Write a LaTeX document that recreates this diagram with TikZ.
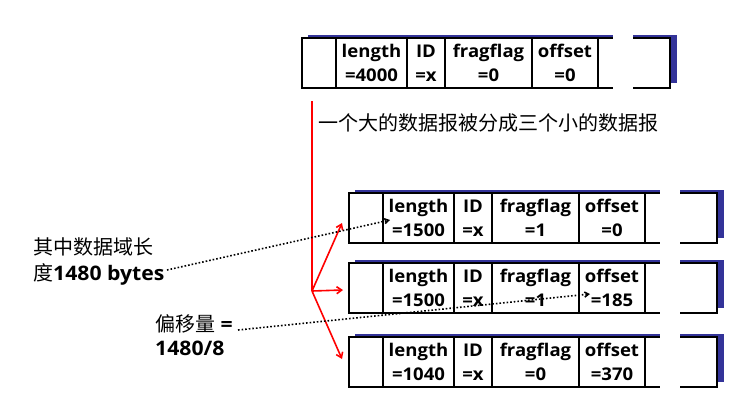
\documentclass[tikz,border=0pt]{standalone}
\usepackage{fontspec}
\setmainfont{Open Sans}[FakeStretch=1.06]
\newfontfamily\cjk{Noto Sans CJK SC}
\usetikzlibrary{arrows.meta,calc}
\definecolor{shadowblue}{RGB}{51,51,153}
\tikzset{
  pktbox/.style={draw=black, fill=white, line width=2.6pt, minimum width=368pt, minimum height=50pt, inner sep=0pt, outer sep=0pt},
  divider/.style={line width=2pt},
  cell/.style={align=center, inner sep=0pt, font=\bfseries\fontsize{17.5}{24}\selectfont},
  redline/.style={draw=red, line width=1.6pt},
  redarrow/.style={redline, -{Straight Barb[length=5pt,width=7pt]}},
  dotline/.style={line width=1.6pt, dotted, -{Straight Barb[length=4pt,width=5pt]}},
  lab/.style={align=left, anchor=west, inner sep=0pt, font=\bfseries\fontsize{20}{26}\selectfont},
}
\newcommand\pkt[6]{%
  \begin{scope}[shift={(#2,#3)}]
    \fill[shadowblue] (6,-3) rectangle (375,45);
    \node[pktbox] (#1) at (184,25) {};
    \foreach \d in {34,105,143,230,296} \draw[divider] (\d,0) -- (\d,50);
    \fill[white] (311,-5) rectangle (331,52);
    \node[cell] (#1-len) at (69.5,25) {length\\=#4};
    \node[cell] (#1-id) at (124,25) {ID\\=x};
    \node[cell] (#1-flag) at (186.5,25) {fragflag\\=#5};
    \node[cell] (#1-off) at (263,25) {offset\\=#6};
  \end{scope}}
\begin{document}
\begin{tikzpicture}[x=1pt,y=-1pt]
\useasboundingbox (0,0) rectangle (756,408);
\pkt{p0}{302}{38}{4000}{0}{0}
\pkt{f1}{349}{193}{1500}{1}{0}
\pkt{f2}{349}{263}{1500}{1}{185}
\pkt{f3}{349}{337}{1040}{0}{370}
% title
\node[inner sep=0pt, anchor=west, font=\cjk\fontsize{20}{24}\selectfont] (title) at (318,123) {一个大的数据报被分成三个小的数据报};
% red split arrows
\coordinate (rtop) at (312,101);
\coordinate (br) at (312,291);
\draw[redline] (rtop) -- (br);
\draw[redarrow] (br) -- ($(f1.west)+(-7,5)$);
\draw[redarrow] (br) -- ($(f2.west)+(-6,2)$);
\draw[redarrow] (br) -- ($(f3.west)+(-7,-3)$);
% labels
\node[lab] (lab1) at (33,261.5) {{\cjk\mdseries 其中数据域长}\\{\cjk\mdseries 度}1480 bytes};
\node[lab, font=\bfseries\fontsize{20}{24}\selectfont] (lab2) at (155,335) {{\cjk\mdseries 偏移量} =\\1480/8};
\coordinate (d1s) at (167,270);
\coordinate (d1e) at (390,220);
\coordinate (d2s) at (238,330);
\coordinate (d2e) at (590,294);
\draw[dotline] (d1s) -- (d1e);
\draw[dotline] (d2s) -- (d2e);
\end{tikzpicture}
\end{document}
